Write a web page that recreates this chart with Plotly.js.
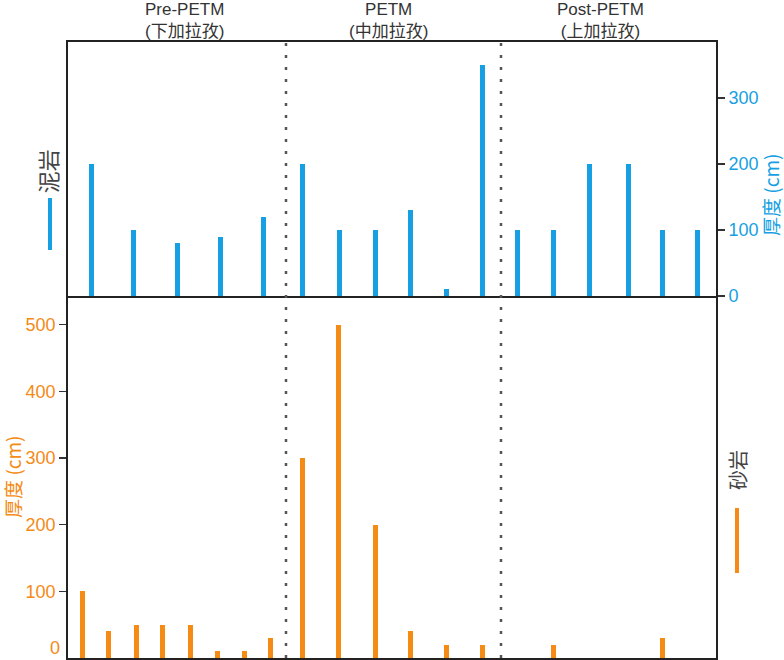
<!DOCTYPE html>
<html>
<head>
<meta charset="utf-8">
<script src="https://cdn.plot.ly/plotly-3.0.1.min.js"></script>
<style>html,body{margin:0;padding:0;background:#fff;}#chart{width:784px;height:660px;}</style>
</head>
<body>
<div id="chart"></div>
<script>
// Sample positions along the section (arbitrary position units) and thicknesses (cm)
const mudPos = [23, 65, 109, 152, 195, 234, 271, 307, 342, 378, 414, 449, 485, 521, 560, 594, 629];
const mudThk = [200, 100, 80, 90, 120, 200, 100, 100, 130, 10, 350, 100, 100, 200, 200, 100, 100];
const sandPos = [14, 40, 68, 94, 122, 149, 176, 202, 234, 270, 307, 342, 378, 414, 485, 594];
const sandThk = [100, 40, 50, 50, 50, 10, 10, 30, 300, 500, 200, 40, 20, 20, 20, 30];
const stageNames = ['Pre-PETM', 'PETM', 'Post-PETM'];
const stageUnits = ['(下加拉孜)', '(中加拉孜)', '(上加拉孜)'];
const stageCenters = [116, 320, 532];
const stageBounds = [218, 433];
const mudTicks = [0, 100, 200, 300];
const sandTicks = [100, 200, 300, 400, 500];

const BLUE = '#16a0e3';
const ORANGE = '#f58a14';
const FONT = 'Liberation Sans, Arial, Noto Sans CJK SC, sans-serif';
const CJK = 'Noto Sans CJK SC, Liberation Sans, sans-serif';

const traces = [
  {type: 'bar', x: mudPos, y: mudThk, xaxis: 'x2', yaxis: 'y2', width: 5,
   marker: {color: BLUE, line: {width: 0}}, name: '泥岩', showlegend: false},
  {type: 'bar', x: sandPos, y: sandThk, xaxis: 'x', yaxis: 'y', width: 5,
   marker: {color: ORANGE, line: {width: 0}}, name: '砂岩', showlegend: false}
];

const split = 362 / 616;
const lineCol = '#222';
const LW = 1.8;

const shapes = stageBounds.map(b => ({
  type: 'line', xref: 'x', yref: 'paper', x0: b, x1: b, y0: 0, y1: 1,
  line: {color: '#555', width: 2.5, dash: '3px,9px'}
}));
shapes.push({type: 'line', xref: 'paper', yref: 'paper', x0: -0.0278, x1: -0.0278, y0: 0.6623, y1: 0.7468,
  line: {color: BLUE, width: 4}});
shapes.push({type: 'line', xref: 'paper', yref: 'paper', x0: 1.0324, x1: 1.0324, y0: 0.138, y1: 0.2435,
  line: {color: ORANGE, width: 4}});

const annotations = stageNames.map((t, i) => ({
  text: t + '<br>' + stageUnits[i], xref: 'x', yref: 'paper', x: stageCenters[i], y: 1,
  xanchor: 'center', yanchor: 'bottom', borderpad: 0,
  showarrow: false, font: {family: FONT, size: 17, color: '#333'}
}));
annotations.push({text: '泥岩', xref: 'paper', yref: 'paper', x: -0.0324, y: 0.79, xanchor: 'center', yanchor: 'middle',
  textangle: -90, showarrow: false, font: {family: CJK, size: 22, color: '#444'}});
annotations.push({text: '砂岩', xref: 'paper', yref: 'paper', x: 1.0324, y: 0.305, xanchor: 'center', yanchor: 'middle',
  textangle: -90, showarrow: false, font: {family: CJK, size: 20, color: '#444'}});
annotations.push({text: '厚度 (cm)', xref: 'paper', yref: 'paper', x: 1.0833, y: 0.7516, xanchor: 'center', yanchor: 'middle',
  textangle: -90, showarrow: false, font: {family: CJK, size: 19, color: BLUE}});
annotations.push({text: '厚度 (cm)', xref: 'paper', yref: 'paper', x: -0.0849, y: 0.294, xanchor: 'center', yanchor: 'middle',
  textangle: -90, showarrow: false, font: {family: CJK, size: 19, color: ORANGE}});
annotations.push({text: '0', xref: 'paper', yref: 'y', x: 0, y: 0, xanchor: 'right', yanchor: 'middle',
  xshift: -6, yshift: 10, showarrow: false, font: {family: FONT, size: 18, color: ORANGE}});

const layout = {
  width: 784, height: 660,
  margin: {l: 68, r: 68, t: 42, b: 2},
  paper_bgcolor: '#fff', plot_bgcolor: '#fff',
  showlegend: false, bargap: 0,
  font: {family: FONT, size: 18},
  xaxis: {domain: [0, 1], range: [0, 648], anchor: 'y', showticklabels: false, ticks: '',
    showgrid: false, zeroline: false, showline: true, mirror: false, linecolor: lineCol, linewidth: LW},
  xaxis2: {domain: [0, 1], range: [0, 648], anchor: 'y2', matches: 'x', showticklabels: false, ticks: '',
    showgrid: false, zeroline: false, showline: true, mirror: true, linecolor: lineCol, linewidth: LW},
  yaxis: {domain: [0, split], range: [0, 543], anchor: 'x', side: 'left',
    tickmode: 'array', tickvals: sandTicks, ticks: 'outside', ticklen: 7, tickwidth: 1.5, tickcolor: '#333',
    tickfont: {family: FONT, size: 18, color: ORANGE},
    showgrid: false, zeroline: false, showline: true, mirror: true, linecolor: lineCol, linewidth: LW},
  yaxis2: {domain: [split, 1], range: [0, 385], anchor: 'x2', side: 'right',
    tickmode: 'array', tickvals: mudTicks, ticks: 'outside', ticklen: 7, tickwidth: 1.5, tickcolor: '#333',
    tickfont: {family: FONT, size: 18, color: BLUE},
    showgrid: false, zeroline: false, showline: true, mirror: true, linecolor: lineCol, linewidth: LW},
  shapes: shapes,
  annotations: annotations
};

Plotly.newPlot('chart', traces, layout, {staticPlot: true, displayModeBar: false});
</script>
</body>
</html>
